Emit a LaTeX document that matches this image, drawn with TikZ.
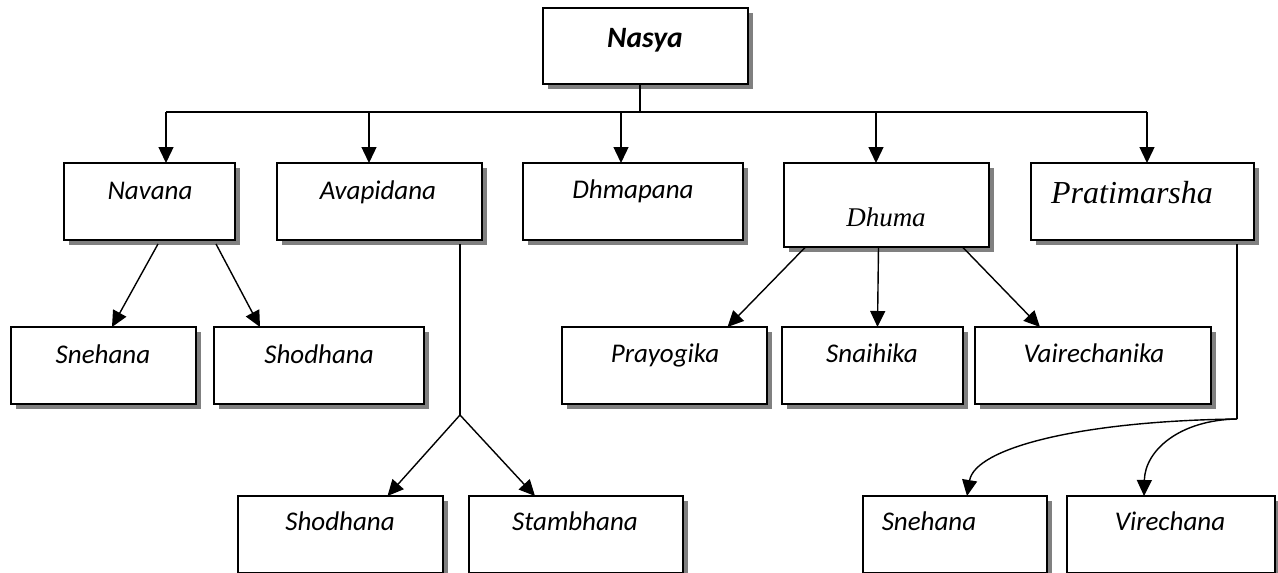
\documentclass[tikz,border=0pt]{standalone}
\usepackage{fontspec}
\setmainfont{Carlito}
\newfontfamily\timesf{Liberation Serif}
\usetikzlibrary{shadows,arrows.meta}
\begin{document}
\begin{tikzpicture}[x=1pt,y=-1pt,
  box/.style={draw,line width=1.5pt,fill=white,inner sep=0pt,outer sep=0pt,anchor=north west,
    drop shadow={shadow xshift=5pt,shadow yshift=-5pt,fill=black!50,opacity=1}},
  lbl/.style={anchor=base,inner sep=0pt,font=\fontsize{27}{32}\selectfont\itshape},
  conn/.style={line width=1.4pt},
  arr/.style={line width=1.4pt,-{Triangle[length=16pt,width=15pt]}}]
\useasboundingbox (0,0) rectangle (1278,573);
% boxes
\node[box,minimum width=205pt,minimum height=76pt] (nasya) at (543,8) {};
\node[box,minimum width=171pt,minimum height=77pt] (navana) at (64,163) {};
\node[box,minimum width=205pt,minimum height=77pt] (avapidana) at (277,163) {};
\node[box,minimum width=220pt,minimum height=77pt] (dhmapana) at (523,163) {};
\node[box,minimum width=205pt,minimum height=84pt] (dhuma) at (784,163) {};
\node[box,minimum width=223pt,minimum height=77pt] (pratimarsha) at (1031,163) {};
\node[box,minimum width=185pt,minimum height=77pt] (snehana) at (11,327) {};
\node[box,minimum width=210pt,minimum height=77pt] (shodhana) at (214,327) {};
\node[box,minimum width=205pt,minimum height=77pt] (prayogika) at (562,327) {};
\node[box,minimum width=181pt,minimum height=77pt] (snaihika) at (782,327) {};
\node[box,minimum width=236pt,minimum height=77pt] (vairechanika) at (975,327) {};
\node[box,minimum width=205pt,minimum height=77pt] (shodhanab) at (238,496) {};
\node[box,minimum width=214pt,minimum height=77pt] (stambhana) at (469,496) {};
\node[box,minimum width=184pt,minimum height=77pt] (snehanab) at (863,496) {};
\node[box,minimum width=208pt,minimum height=77pt] (virechana) at (1067,496) {};
% labels
\node[lbl,font=\fontsize{29.5}{34}\selectfont\bfseries\itshape] (tnasya) at (645,47) {Nasya};
\node[lbl] (tnavana) at (150,199) {Navana};
\node[lbl] (tavapidana) at (378,199) {Avapidana};
\node[lbl] (tdhmapana) at (633,198) {Dhmapana};
\node[lbl,font=\fontsize{27}{31}\selectfont\timesf\itshape] (tdhuma) at (886,226) {Dhuma};
\node[lbl,font=\fontsize{32}{37}\selectfont\timesf\itshape] (tpratimarsha) at (1132,203) {Pratimarsha};
\node[lbl] (tsnehana) at (103,363) {Snehana};
\node[lbl] (tshodhana) at (319,363) {Shodhana};
\node[lbl] (tprayogika) at (665,362) {Prayogika};
\node[lbl] (tsnaihika) at (872,362) {Snaihika};
\node[lbl] (tvairechanika) at (1094,362) {Vairechanika};
\node[lbl] (tshodhanab) at (340,530) {Shodhana};
\node[lbl] (tstambhana) at (575,530) {Stambhana};
\node[lbl] (tsnehanab) at (929,530) {Snehana};
\node[lbl] (tvirechana) at (1170,530) {Virechana};
% top bar
\coordinate (stem) at (640,112);
\coordinate (b1) at (166,112);
\coordinate (b2) at (369,112);
\coordinate (b3) at (621,112);
\coordinate (b4) at (876,112);
\coordinate (b5) at (1147,112);
\draw[conn] (nasya.south -| stem) -- (stem);
\draw[conn] (b1) -- (b5);
\draw[arr] (b1) -- (navana.north -| b1);
\draw[arr] (b2) -- (avapidana.north -| b2);
\draw[arr] (b3) -- (dhmapana.north -| b3);
\draw[arr] (b4) -- (dhuma.north -| b4);
\draw[arr] (b5) -- (pratimarsha.north -| b5);
% Navana
\draw[arr] ([xshift=8.5pt,yshift=-4pt]navana.south) -- ([xshift=8.5pt]snehana.north);
\draw[arr] ([xshift=66.5pt,yshift=-4pt]navana.south) -- ([xshift=-59pt]shodhana.north);
% Avapidana
\coordinate (ava) at (460,415);
\draw[conn] ([yshift=-4pt]avapidana.south -| ava) -- (ava);
\draw[arr] (ava) -- ([xshift=47pt]shodhanab.north);
\draw[arr] (ava) -- ([xshift=-41pt]stambhana.north);
% Dhuma
\draw[arr] ([xshift=-81pt]dhuma.south) -- ([xshift=63pt]prayogika.north);
\draw[arr] ([xshift=-8pt]dhuma.south) -- ([xshift=5pt]snaihika.north);
\draw[arr] ([xshift=76pt]dhuma.south) -- ([xshift=-53pt]vairechanika.north);
% Pratimarsha
\coordinate (pra) at (1237,419);
\draw[conn] ([yshift=-4pt]pratimarsha.south -| pra) -- (pra);
\draw[arr] (pra) .. controls (1080,421) and (975,448) .. ([xshift=12pt]snehanab.north);
\draw[arr] (pra) .. controls (1180,420) and (1145,450) .. ([xshift=-27pt]virechana.north);
\end{tikzpicture}
\end{document}
